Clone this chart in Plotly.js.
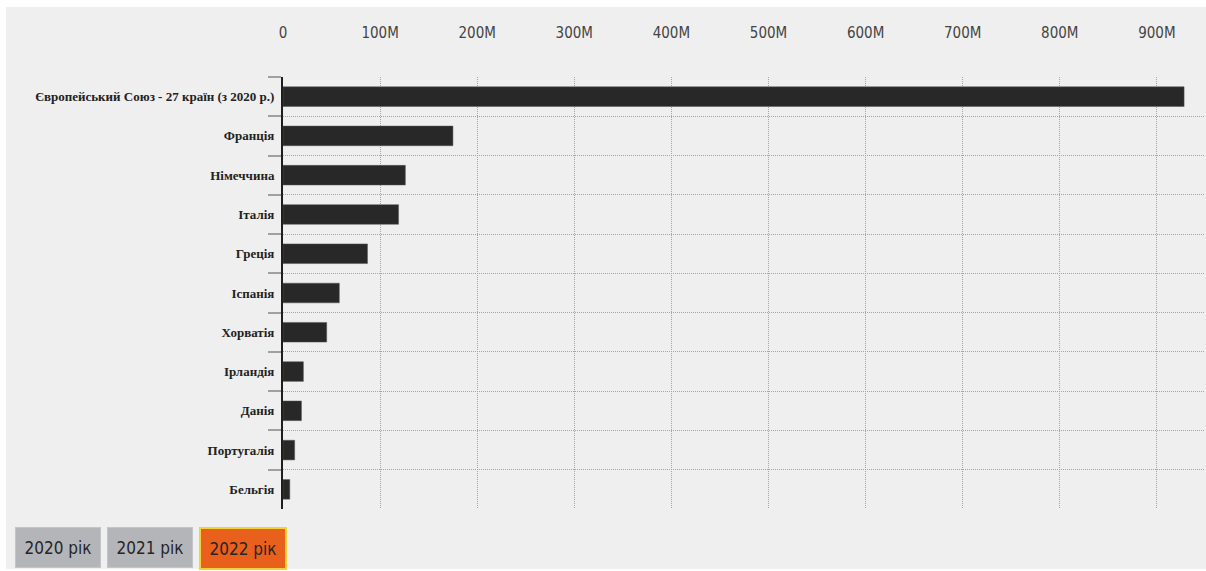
<!DOCTYPE html>
<html>
<head>
<meta charset="utf-8">
<script src="https://cdn.plot.ly/plotly-3.0.1.min.js"></script>
<style>html,body{margin:0;padding:0;background:#fff;}#chart{width:1206px;height:571px;}</style>
</head>
<body>
<div id="chart"></div>
<script>
const countries = [
  "Європейський Союз - 27 країн (з 2020 р.)",
  "Франція", "Німеччина", "Італія", "Греція", "Іспанія",
  "Хорватія", "Ірландія", "Данія", "Португалія", "Бельгія"
];
const values2022 = [928e6, 175e6, 126e6, 119e6, 87e6, 58e6, 45e6, 21e6, 19e6, 12e6, 7e6];
const yearButtons = ["2020 рік", "2021 рік", "2022 рік"];
const activeYear = 2;

const W = 1206, H = 571;
const mL = 283, mR = 1, mT = 77, mB = 62;
const pw = W - mL - mR, ph = H - mT - mB;
const px2x = p => (p - mL) / pw;
const py2y = p => (H - mB - p) / ph;
const xMax = 1e8 * pw / 97.1;

const btnLeft = [15, 107, 199];
const annotations = yearButtons.map((t, i) => ({
  xref: 'paper', yref: 'paper',
  x: px2x(btnLeft[i]), y: py2y(527), xanchor: 'left', yanchor: 'top',
  text: t, showarrow: false,
  width: 82, height: 37, borderpad: 1,
  bgcolor: i === activeYear ? '#e8601c' : '#b4b5b9',
  bordercolor: i === activeYear ? '#f2d23a' : '#c4c5c8',
  borderwidth: i === activeYear ? 2 : 1,
  font: {family: '"DejaVu Sans Condensed", Roboto, sans-serif', size: 17, color: '#262626'}
}));

const shapes = [{
  type: 'rect', xref: 'paper', yref: 'paper', layer: 'below',
  x0: px2x(6), x1: px2x(W), y0: py2y(569), y1: py2y(7),
  fillcolor: '#efefef', line: {width: 0}
}];

const data = [{
  type: 'bar', orientation: 'h',
  x: values2022, y: countries,
  marker: {color: '#282828', line: {color: '#555', width: 0.5}},
  hoverinfo: 'x+y'
}];

const layout = {
  width: W, height: H,
  margin: {l: mL, r: mR, t: mT, b: mB},
  paper_bgcolor: '#ffffff',
  plot_bgcolor: 'rgba(0,0,0,0)',
  bargap: 0.5,
  showlegend: false,
  xaxis: {
    side: 'top', range: [0, xMax], dtick: 1e8, tick0: 0,
    tickformat: '~s',
    showgrid: true, gridcolor: '#a5a5a5', griddash: '1px,1px', gridwidth: 1,
    zeroline: false, showline: false,
    ticks: '', ticklabelstandoff: 35,
    tickfont: {family: '"DejaVu Sans Condensed", "Liberation Sans Narrow", sans-serif', size: 15, color: '#444'}
  },
  yaxis: {
    autorange: 'reversed', type: 'category',
    tickson: 'boundaries', ticks: 'outside', ticklen: 13, tickcolor: '#a0a0a0', tickwidth: 2,
    showgrid: true, gridcolor: '#a5a5a5', griddash: '1px,1px', gridwidth: 1,
    showline: true, linecolor: '#1e1e1e', linewidth: 2,
    zeroline: false,
    ticklabelstandoff: 4,
    tickfont: {family: '"Liberation Serif", "DejaVu Serif", serif', size: 13, color: '#222', weight: 'bold'}
  },
  annotations: annotations,
  shapes: shapes
};

Plotly.newPlot('chart', data, layout, {displayModeBar: false, staticPlot: true});
</script>
</body>
</html>
